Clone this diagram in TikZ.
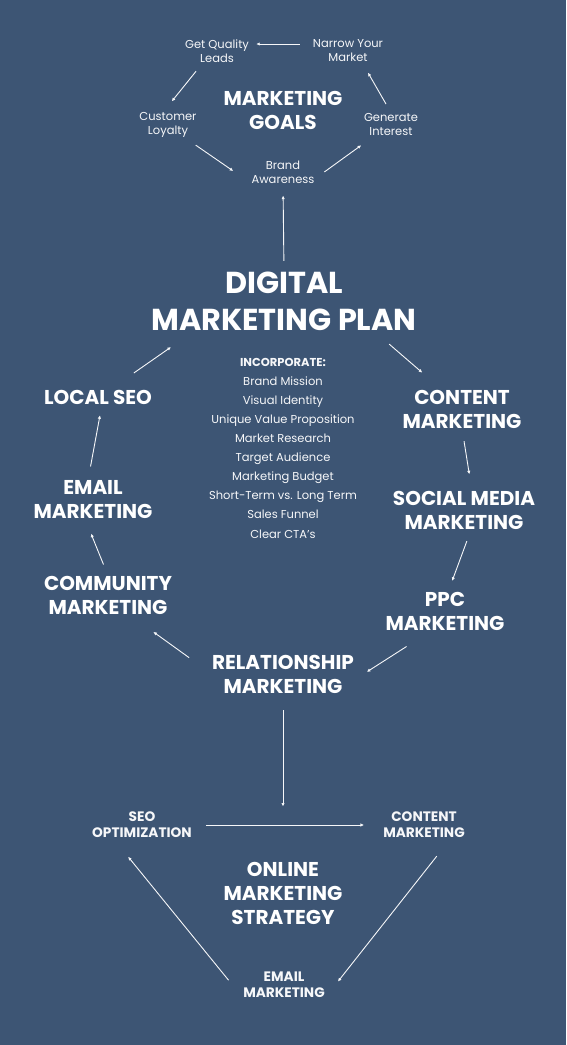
\documentclass[tikz,border=0pt]{standalone}
\usepackage{fontspec}
\setmainfont{Poppins}
\usepackage{tikz}
\usetikzlibrary{arrows.meta}

\definecolor{slate}{RGB}{61,85,116}
\definecolor{chalk}{RGB}{246,247,249}

\tikzset{
  small/.style={align=center, inner sep=0pt, text=chalk, font=\fontsize{11.5}{14}\selectfont},
  minor/.style={align=center, inner sep=0pt, text=chalk, font=\bfseries\fontsize{13.7}{16}\selectfont},
  head/.style={align=center, inner sep=0pt, text=white, font=\bfseries\fontsize{20}{24}\selectfont},
  title/.style={align=center, inner sep=0pt, text=white, font=\bfseries\fontsize{30.3}{37}\selectfont},
  link/.style={->, chalk, line width=0.9pt},
  >={Latex[length=3.6pt,width=3.4pt]}
}

\begin{document}
\begin{tikzpicture}[x=1pt,y=-1pt]
	\fill[slate] (0,0) rectangle (566,1045);
	\useasboundingbox (0,0) rectangle (566,1045);
% marketing goals
	\node[head]  (goals)    at (283,110) {MARKETING\\GOALS};
	\node[small] (getq)     at (217,51)  {Get Quality\\Leads};
	\node[small] (narrow)   at (348,51)  {Narrow Your\\Market};
	\node[small] (loyalty)  at (168,125) {Customer\\Loyalty};
	\node[small] (generate) at (391,124) {Generate\\Interest};
	\node[small] (brand)    at (283,172) {Brand\\Awareness};
% plan
	\node[title] (plan) at (284,301.5) {DIGITAL\\MARKETING PLAN};
	\node[small, font=\fontsize{11.5}{19.1}\selectfont] (incorp) at (283,448)
		{\textbf{INCORPORATE:}\\Brand Mission\\Visual Identity\\Unique Value Proposition\\Market Research\\Target Audience\\Marketing Budget\\Short-Term vs. Long Term\\Sales Funnel\\Clear CTA's};
	\node[head] (localseo)  at (98,397)   {LOCAL SEO};
	\node[head] (content)   at (462,409)  {CONTENT\\MARKETING};
	\node[head] (email)     at (93,499.5) {EMAIL\\MARKETING};
	\node[head] (social)    at (464,510.5) {SOCIAL MEDIA\\MARKETING};
	\node[head] (community) at (108,595)  {COMMUNITY\\MARKETING};
	\node[head] (ppc)       at (445,611.5) {PPC\\MARKETING};
	\node[head] (rel)       at (283,674)  {RELATIONSHIP\\MARKETING};
% online strategy
	\node[head]  (online)   at (283,893) {ONLINE\\MARKETING\\STRATEGY};
	\node[minor] (seo)      at (142,825) {SEO\\OPTIMIZATION};
	\node[minor] (content2) at (424,825) {CONTENT\\MARKETING};
	\node[minor] (email2)   at (284,985) {EMAIL\\MARKETING};
% goal cycle
	\draw[link, shorten <=13pt, shorten >=7pt] ([yshift=7pt]narrow.west) -- ([yshift=7pt]getq.east);
	\draw[link, shorten <=11pt, shorten >=14pt] ([xshift=-14pt]getq.south) -- ([xshift=-5pt]loyalty.north);
	\draw[link, shorten <=13pt, shorten >=22pt] ([xshift=17pt]loyalty.south) -- (brand.south west);
	\draw[link, shorten <=12pt, shorten >=17pt] ([yshift=-7pt]brand.east) -- ([xshift=-16pt]generate.south);
	\draw[link, shorten <=10pt, shorten >=12pt] (generate.north) -- ([xshift=14pt]narrow.south);
	\draw[link, shorten <=11pt, shorten >=12pt] (plan.north) -- (brand.south);
% plan cycle
	\draw[link, shorten <=20pt, shorten >=26pt] ([xshift=90pt]plan.south) -- ([xshift=-20pt]content.north);
	\draw[link, shorten <=13pt, shorten >=17pt] (content.south) -- ([xshift=8pt]social.north);
	\draw[link, shorten <=12pt, shorten >=12pt] ([xshift=7pt]social.south) -- ([xshift=3pt]ppc.north);
	\draw[link, shorten <=29pt, shorten >=15pt] ([xshift=-14pt]ppc.south) -- ([yshift=-6pt]rel.east);
	\draw[link, shorten <=28pt, shorten >=30pt] (rel.west) -- ([xshift=21pt]community.south);
	\draw[link, shorten <=12pt, shorten >=16pt] (community.north) -- ([xshift=-8pt]email.south);
	\draw[link, shorten <=14pt, shorten >=11pt] ([xshift=-5pt]email.north) -- ([xshift=4pt]localseo.south);
	\draw[link, shorten <=29pt, shorten >=28pt] ([xshift=12pt]localseo.north) -- ([xshift=-90pt]plan.south);
% online cycle
	\draw[link, shorten <=17pt, shorten >=55pt] (rel.south) -- (online.north);
	\draw[link, shorten <=14pt, shorten >=19pt] (seo.east) -- (content2.west);
	\draw[link, shorten <=23pt, shorten >=21pt] ([xshift=27pt]content2.south) -- (email2.south east);
	\draw[link, shorten <=23pt, shorten >=24pt] (email2.south west) -- ([xshift=-29pt]seo.south);
\end{tikzpicture}
\end{document}
